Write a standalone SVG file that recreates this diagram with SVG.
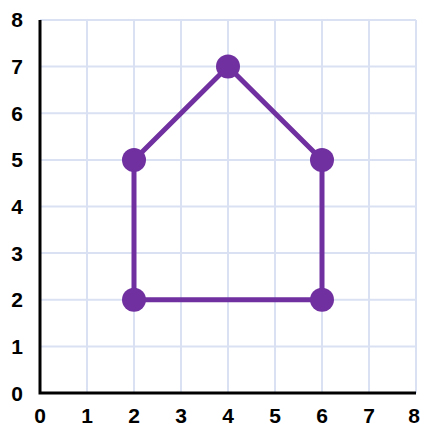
<svg xmlns="http://www.w3.org/2000/svg" width="422" height="426" viewBox="0 0 422 426">
<style>
.grid line{stroke:#d9e1f2;stroke-width:2}
.axis{stroke:#000;stroke-width:3;fill:none}
.lbl{font-family:"Liberation Sans",Arial,sans-serif;font-weight:bold;font-size:21px;fill:#000;text-anchor:middle}
.edge{stroke:#7030a0;stroke-width:5;fill:none;stroke-linejoin:round}
.pt{fill:#7030a0}
</style>
<rect width="422" height="426" fill="#fff"/>
<g class="grid">
<line x1="87" y1="20" x2="87" y2="393"/>
<line x1="134" y1="20" x2="134" y2="393"/>
<line x1="181" y1="20" x2="181" y2="393"/>
<line x1="228" y1="20" x2="228" y2="393"/>
<line x1="275" y1="20" x2="275" y2="393"/>
<line x1="322" y1="20" x2="322" y2="393"/>
<line x1="369" y1="20" x2="369" y2="393"/>
<line x1="416" y1="20" x2="416" y2="393"/>
<line x1="40" y1="346.4" x2="416" y2="346.4"/>
<line x1="40" y1="299.8" x2="416" y2="299.8"/>
<line x1="40" y1="253.1" x2="416" y2="253.1"/>
<line x1="40" y1="206.5" x2="416" y2="206.5"/>
<line x1="40" y1="159.9" x2="416" y2="159.9"/>
<line x1="40" y1="113.3" x2="416" y2="113.3"/>
<line x1="40" y1="66.6" x2="416" y2="66.6"/>
<line x1="40" y1="20" x2="416" y2="20"/>
</g>
<path class="axis" d="M40,20 V393 H416"/>
<g id="y-labels">
<text class="lbl" x="17" y="401">0</text>
<text class="lbl" x="17" y="354">1</text>
<text class="lbl" x="17" y="307">2</text>
<text class="lbl" x="17" y="261">3</text>
<text class="lbl" x="17" y="214">4</text>
<text class="lbl" x="17" y="167">5</text>
<text class="lbl" x="17" y="121">6</text>
<text class="lbl" x="17" y="74">7</text>
<text class="lbl" x="17" y="27">8</text>
</g>
<g id="x-labels">
<text class="lbl" x="40" y="423">0</text>
<text class="lbl" x="87" y="423">1</text>
<text class="lbl" x="134" y="423">2</text>
<text class="lbl" x="181" y="423">3</text>
<text class="lbl" x="228" y="423">4</text>
<text class="lbl" x="275" y="423">5</text>
<text class="lbl" x="322" y="423">6</text>
<text class="lbl" x="369" y="423">7</text>
<text class="lbl" x="414" y="423">8</text>
</g>
<g id="connectors">
<path class="edge" d="M134,159.9 L228,66.6 L322,159.9 L322,299.8 L134,299.8 Z"/>
</g>
<g id="p1"><circle class="pt" cx="134" cy="159.9" r="12"/></g>
<g id="p2"><circle class="pt" cx="228" cy="66.6" r="12"/></g>
<g id="p3"><circle class="pt" cx="322" cy="159.9" r="12"/></g>
<g id="p4"><circle class="pt" cx="322" cy="299.8" r="12"/></g>
<g id="p5"><circle class="pt" cx="134" cy="299.8" r="12"/></g>
</svg>
